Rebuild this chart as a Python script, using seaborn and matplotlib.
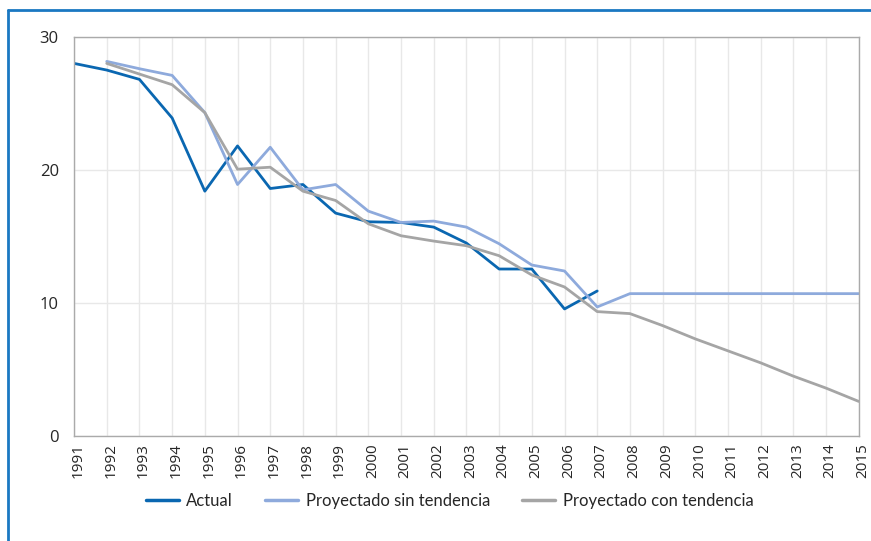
import numpy as np
import pandas as pd
import seaborn as sns
import matplotlib.pyplot as plt
import matplotlib.transforms as mtransforms
from matplotlib.lines import Line2D

# data
years = list(range(1991, 2016))

actual = [28.0, 27.5, 26.8, 23.9, 18.4, 21.8, 18.6, 18.9, 16.75, 16.1,
          16.05, 15.7, 14.5, 12.55, 12.55, 9.55, 10.9]

sin_tendencia = [np.nan, 28.15, 27.6, 27.1, 24.3, 18.9, 21.7, 18.5, 18.9, 16.9,
                 16.05, 16.15, 15.7, 14.45, 12.85, 12.4, 9.7, 10.7, 10.7, 10.7,
                 10.7, 10.7, 10.7, 10.7, 10.7]

con_tendencia = [np.nan, 28.0, 27.2, 26.4, 24.3, 20.05, 20.2, 18.4, 17.7, 15.95,
                 15.05, 14.65, 14.3, 13.55, 12.1, 11.2, 9.35, 9.2, 8.3, 7.3,
                 6.4, 5.5, 4.5, 3.6, 2.6]

labels = ["Actual", "Proyectado sin tendencia", "Proyectado con tendencia"]
colors = ["#0a67b1", "#8eaadc", "#a5a5a5"]

sns.set_style("white")
plt.rcParams['font.family'] = ['Open Sans', 'Lato', 'DejaVu Sans']

fig = plt.figure(figsize=(8.71, 5.41), dpi=100)
ax = fig.add_axes([0.085, 0.194, 0.901, 0.738])

series = [actual, sin_tendencia, con_tendencia]
for vals, lab, col in zip(series, labels, colors):
    df = pd.DataFrame({"year": years[:len(vals)], "value": vals}).dropna()
    sns.lineplot(data=df, x="year", y="value", ax=ax, color=col, linewidth=2.0,
                 label=lab, legend=False)

ax.set_xlim(1991, 2015)
ax.set_ylim(0, 30)
ax.set_yticks([0, 10, 20, 30])
ax.set_xticks(years)
ax.set_xticklabels([str(y) for y in years], rotation=90, fontsize=11)
ax.tick_params(axis='y', labelsize=12, length=0, pad=11)
ax.tick_params(axis='x', length=0, pad=5)
# nudge the rotated year labels a little to the right, like the original
offset = mtransforms.ScaledTranslation(4 / 100, 0, fig.dpi_scale_trans)
for lbl in ax.get_xticklabels():
    lbl.set_transform(lbl.get_transform() + offset)
ax.set_xlabel("")
ax.set_ylabel("")

ax.grid(True, color="#e8e8e8", linewidth=1.0)
ax.set_axisbelow(True)
for s in ax.spines.values():
    s.set_color("#aaaaaa")
    s.set_linewidth(1.0)

handles = [Line2D([0], [0], color=c, linewidth=2.5) for c in colors]
leg = fig.legend(handles, labels, loc="center", ncol=3,
                 bbox_to_anchor=(0.516, 0.074), frameon=False,
                 prop={'family': ['Lato', 'DejaVu Sans'], 'size': 12},
                 handlelength=2.0, columnspacing=1.9, handletextpad=0.45)

# blue frame around the figure
fig.add_artist(Line2D([0.0092, 0.0092], [0.0, 0.9815], color="#1a78c2",
                      linewidth=2, transform=fig.transFigure))
fig.add_artist(Line2D([0.0092, 1.0], [0.9815, 0.9815], color="#1a78c2",
                      linewidth=2, transform=fig.transFigure))

fig.savefig("out.png", dpi=100)
